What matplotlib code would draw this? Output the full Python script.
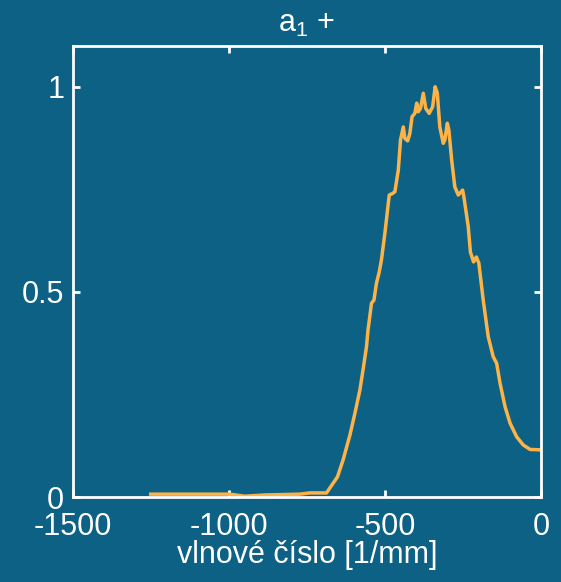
import matplotlib
matplotlib.use("Agg")
import matplotlib.pyplot as plt

plt.rcParams['font.family'] = ['Liberation Sans', 'DejaVu Sans']
plt.rcParams['mathtext.fontset'] = 'custom'
plt.rcParams['mathtext.rm'] = 'Liberation Sans'
plt.rcParams['mathtext.it'] = 'Liberation Sans'

wavenumber = [-1250, -997, -949, -885, -772, -740, -687, -652, -634, -612, -596, -580,
              -570, -559, -554, -543, -535, -527, -518, -511, -500, -486, -475, -468,
              -457, -450, -441, -436, -427, -420, -413, -404, -398, -393, -386, -377,
              -369, -358, -347, -339, -332, -324, -313, -308, -300, -295, -286, -276,
              -265, -251, -247, -233, -226, -216, -207, -199, -185, -169, -153, -142,
              -131, -115, -99, -78, -57, -35, -3]
amplitude = [0.007, 0.007, 0.002, 0.005, 0.007, 0.010, 0.010, 0.049, 0.090, 0.151, 0.204, 0.261,
             0.310, 0.366, 0.407, 0.472, 0.480, 0.521, 0.549, 0.578, 0.643, 0.736, 0.740, 0.744,
             0.797, 0.870, 0.902, 0.874, 0.868, 0.886, 0.927, 0.935, 0.960, 0.939, 0.947, 0.984,
             0.947, 0.935, 0.951, 1.000, 0.984, 0.902, 0.862, 0.870, 0.911, 0.894, 0.821, 0.756,
             0.736, 0.748, 0.732, 0.659, 0.597, 0.573, 0.585, 0.570, 0.480, 0.391, 0.342, 0.326,
             0.277, 0.220, 0.180, 0.147, 0.127, 0.116, 0.115]

xticks = [-1500, -1000, -500, 0]
yticks = [0, 0.5, 1]
ytick_labels = ['0', '0.5', '1']

bg = '#0c6185'
fig = plt.figure(figsize=(5.61, 5.82), dpi=100, facecolor=bg)
ax = fig.add_axes([0.1296, 0.146, 0.8347, 0.7755])
ax.set_facecolor(bg)
ax.plot(wavenumber, amplitude, color='#ffb347', lw=2.5)
ax.set_xlim(-1500, 0)
ax.set_ylim(0, 1.1)
ax.set_xticks(xticks)
ax.set_xticklabels([str(t) for t in xticks])
ax.set_yticks(yticks)
ax.set_yticklabels(ytick_labels)
for s in ax.spines.values():
    s.set_color('white')
    s.set_linewidth(2)
ax.tick_params(direction='in', length=5, width=2, colors='white', labelsize=22,
               top=True, right=True)
ax.tick_params(axis='x', pad=11)
ax.tick_params(axis='y', pad=6)
ax.set_xlabel('vlnové číslo [1/mm]', color='white', fontsize=22, labelpad=-2)
ax.set_title(r'a$_{1}$ +', color='white', fontsize=22, pad=10)
fig.savefig('out.png', dpi=100, facecolor=bg)
